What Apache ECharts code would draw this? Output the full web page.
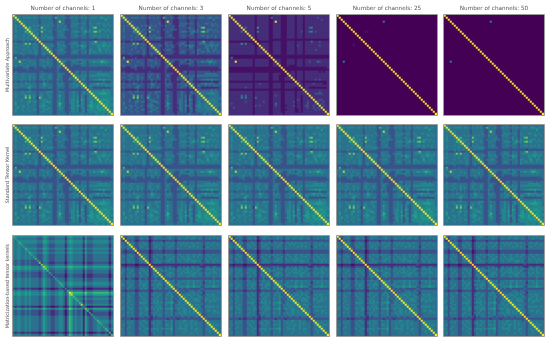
<!DOCTYPE html>
<html><head><meta charset="utf-8">
<style>html,body{margin:0;padding:0;background:#fff}#c{width:550px;height:341px}</style>
<script src="https://cdn.jsdelivr.net/npm/echarts@6/dist/echarts.min.js"></script></head>
<body><div id="c"></div><script>
const channels=[1,3,5,25,50];
const methods=['Multivariate Approach','Standard Tensor Kernel','Matricization-based tensor kernels'];
// Lower triangles of the symmetric matrices, one digit per cell (0 = dark, 9 = brightest), estimated by eye.
const standard=["9","49","349","3439","33339","343439","3433349","34333349","343333649","3333333449",
"34333433439","343333343349","3333343334 339","2322232322 2329","3433337373 43329","3333343433 343239","3433333433 4332349","3333343333 34323349","3433333343 343233349","3333433333 3432343349",
"2222232222 2322232222 9","2622222322 2222222322 29","3433343333 3323433333 229","3338333343 3323343433 2249","3333433333 4323333433 22339","3433333433 3323343333 223439","2322233322 2322233232 2233229","2222222322 2222222222 22322229","2322222222 2222322222 223222229","3433343333 3323343333 2233332229",
"3333433343 3323433343 22343222239","3433343343 4323433343 2233322233 49","3333433343 3323343333 2243322243 349","2322323232 3222232322 2232322222 3329","3433334433 3323354333 2243432233 43429","3333433344 3323344333 2234332233 344349","3433333453 3323343343 2233332233 4332449","2322222232 2222222222 2232222222 22222229","3333433443 3323333444 2234332233 433234339","3433343333 3323433433 2233332233 4332343349",
"3433336363 4324433343 2235332233 4342432344 9","3433337373 4317433343 2234332233 4342432344 49","3333433343 3323444333 2234332234 4342542344 449","3433433453 4423344543 2244332234 4352432345 3449","3533333433 3323443343 2236432234 4342442345 44459","3433443433 4324454333 2245332224 4353432455 445449","3353343343 3323443443 2234432234 4342442345 4454549","3433433433 4423344433 2234332224 4342342444 44454549","3433343343 3323443343 2233332233 4342342344 444444449","3333333333 3323333333 2233333233 3333433333 3443443449"];
const multi3=["9","39","239","2329","22229","232329","2322239","23222239","232222539","2222222339",
"23222322329","232222232239","2222232223 229","1211121211 1219","2322227272 32219","2222232322 232129","2322222322 3221239","2222232222 23212239","2322222232 232122239","2222322222 2321232239",
"1111121111 1211121111 9","1611111211 1111111211 19","2322232222 2212322222 119","2229222232 2212232322 1139","2222322222 3212222322 11229","2322222322 2212232222 112329","1211122211 1211122121 1122119","1111111211 1111111111 11211119","1211111111 1111211111 112111119","2322232222 2212232222 1122221119",
"2222322232 2212322232 11232111129","2322232232 3212322232 1122211122 39","2222322232 2212232222 1132211132 239","1211212121 2111121211 1121211111 2219","2322223322 2212243222 1132321122 32329","2222322233 2212233222 1123221122 233239","2322222342 2212232232 1122221122 3221339","1211111121 1111111111 1121111111 11111119","2222322332 2212222333 1123221122 322123229","2322232222 2212322322 1122221122 3221232239",
"2322226262 3213322232 1124221122 3231321233 9","2322227272 3216322232 1123221122 3231321233 39","2222322232 2212333222 1123221123 3231431233 339","2322322342 3312233432 1133221123 3241321234 2339","2422222322 2212332232 1125321123 3231331234 33349","2322332322 3213343222 1134221113 3242321344 334339","2242232232 2212332332 1123321123 3231331234 3343439","2322322322 3312233322 1123221113 3231231333 33343439","2322232232 2212332232 1122221122 3231231233 333333339","2222222222 2212222222 1122222122 2222322222 2332332339"];
const multi5=["9","19","119","1119","11119","111119","1111119","11111119","111111319","1111111119",
"11111111119","111111111119","1111111111 119","0000000000 0009","1111115141 11009","1111111111 111009","1111111111 1110119","1111111111 11101119","1111111111 111011119","1111111111 1110111119",
"0000000000 0000000000 9","0300000000 0000000000 09","1111111111 1101111111 009","1119111111 1101111111 0019","1111111111 1101111111 00119","1111111111 1101111111 001119","0000000000 0000000000 0000009","0000000000 0000000000 00000009","0000000000 0000000000 000000009","1111111111 1101111111 0011110009",
"1111111111 1101111111 00111000019","1111111111 1101111111 0011100011 19","1111111111 1101111111 0011100011 119","0000000000 0000000000 0000000000 0009","1111111111 1101121111 0011110011 11119","1111111111 1101111111 0011110011 111119","1111111121 1101111111 0011110011 1110119","0000000000 0000000000 0000000000 00000009","1111111111 1101111111 0011110011 111011119","1111111111 1101111111 0011110011 1110111119",
"1111113131 1101111111 0012110011 1110110111 9","1111114141 1103111111 0011110011 1110110111 19","1111111111 1101111111 0011110011 1110210111 119","1111111121 1101111211 0011110011 1120110112 1119","1211111111 1101111111 0013110011 1110110112 11129","1111111111 1102121111 0012110001 1120110122 112119","1121111111 1101111111 0011110011 1110110112 1121219","1111111111 1101111111 0011110001 1110010111 11121219","1111111111 1101111111 0011110011 1110010111 111111119","1111111111 1101111111 0011111011 1111111111 1111111119"];
const multi25Peaks=[[23,3,4],[8,14,0],[15,8,0]];
const multi50Peaks=[[23,3,4]];
const matric1=["6","45","435","4346","43445","434435","4344336","43443345","434433436","4344334345",
"4344334343 5","4344334343 36","3233223232 225","3233223232 2227","3233223232 22217","5455445454 444348","5455445454 4443467","4344334343 33323546","3233223232 222124325","3233223232 2221243224",
"3233223232 2221243221 4","4344334343 3332354332 25","4344334343 3332354332 235","4344334343 3332354332 2336","4344334343 3332354332 23346","4344334343 3332354332 233445","2122112121 1110132110 0112213","4344334343 3332354332 23344316","5455445454 4443465443 344554249","5455445454 4443465443 3445542478",
"4344334343 3332354332 2334431365 6","4344334343 3332354332 2334431365 46","4344334343 3332354332 2334431365 346","4344334343 3332354332 2334431365 3436","4344334343 3332354332 2334431365 34348","2122112121 1110132110 0112210143 121123","5455445454 4443465443 3445542476 4544527","3233223232 2221243221 1223320254 23223046","3233223232 2221243221 1223320254 232230415","3233223232 2221243221 1223320254 2322304115",
"4344334343 3332354332 2334431365 3433415322 5","4344334343 3332354332 2334431365 3433415322 35","4344334343 3332354332 2334431365 3433415322 336","4344334343 3332354332 2334431365 3433415322 3346","4344334343 3332354332 2334431365 3433415322 33445","4344334343 3332354332 2334431365 3433415322 334435","4344334343 3332354332 2334431365 3433415322 3344336","4344334343 3332354332 2334431365 3433415322 33443346","2122112121 1110132110 0112210143 1211203100 112211216","4344334343 3332354332 2334431365 3433415322 3344334316"];
const matricN=["9","39","219","3329","33239","433349","3324339","22122239","221222219","3323433229",
"3423343223 9","3324333224 39","3323433223 439","3423334223 3349","1101111001 11119","2212222112 222219","3324333223 4333129","3423343223 34341249","4323433224 334312339","3323334223 3334124339",
"3324333223 4333123433 9","2312322113 2232122322 39","3323333224 3333133433 329","3324333223 4343123334 3249","4423343224 3443134344 42349","3323433223 3433123343 323349","3324333223 4343124334 3243349","2212222112 2222112222 22223229","3323334223 3433123433 323343329","3424333224 3343134334 3234342329",
"3323433223 4333123343 3233343233 9","3324333223 3433133433 3243342324 39","3423433223 3343124343 3233342233 439","4324333224 4443134443 4244453234 3349","3323343223 3433123343 3243342334 34349","3424333223 3343133434 3233342333 433349","4423443224 4344134344 4244452344 3443339","3323333223 3343123343 3233342233 34434349","3324343223 4333133433 3243342334 344343439","3423333224 3343124334 3233342333 4343343349",
"3323333223 3323213233 3233323232 3323323332 9","2222212112 2222112222 2221222212 2222222222 29","3323333223 3433123343 3243342333 3443343332 329","3324343224 3343134334 3233342334 3433343433 3239","3423333223 4333124343 3244342333 4344343433 32349","3323433223 3433123333 3233342334 3343343333 323349","4324333224 3344134443 4344452334 4443343443 3234349","3323333223 3433133343 3233342333 3343333433 32334349","3423433223 3343124333 3243342333 3433343343 323343339","3323333223 3333123333 3233332333 3333333333 3233333339"];
const palette=['#440154','#471164','#472d7b','#3b528b','#2c728e','#24868e','#1fa088','#35b779','#6ece58','#b5de2b','#fde725'];
const idx=[...Array(50).keys()];
function fromRows(rows){const L=rows.map(r=>r.replace(/\s/g,''));const d=[];
 for(let i=0;i<50;i++)for(let j=0;j<50;j++){const a=Math.max(i,j),b=Math.min(i,j);d.push([j,i,+(L[a][b]??3)]);}return d;}
function fromPeaks(p){const d=[];
 for(let i=0;i<50;i++)for(let j=0;j<50;j++){let v=i===j?9:-1;for(const q of p)if((q[0]===i&&q[1]===j)||(q[0]===j&&q[1]===i))v=q[2];d.push([j,i,v]);}return d;}
const panels=[
 [fromRows(standard),fromRows(multi3),fromRows(multi5),fromPeaks(multi25Peaks),fromPeaks(multi50Peaks)],
 channels.map(()=>fromRows(standard)),
 [fromRows(matric1),fromRows(matricN),fromRows(matricN),fromRows(matricN),fromRows(matricN)]];
const grid=[],xAxis=[],yAxis=[],series=[],graphic=[];
const lefts=[13,121,229,337,444],tops=[15,125,236],size=100;
methods.forEach((m,r)=>channels.forEach((c,k)=>{const n=grid.length;
 grid.push({left:lefts[k],top:tops[r],width:size,height:size});
 xAxis.push({type:'category',gridIndex:n,data:idx,position:'top',axisLine:{show:false},axisTick:{show:false},axisLabel:{show:false},splitLine:{show:false},
  name:r===0?'Number of channels: '+c:'',nameLocation:'middle',nameGap:3,nameTextStyle:{fontFamily:'DejaVu Sans',fontSize:5.7,color:'#555'}});
 yAxis.push({type:'category',gridIndex:n,data:idx,inverse:true,axisLine:{show:false},axisTick:{show:false},axisLabel:{show:false},splitLine:{show:false},
  name:k===0?m:'',nameLocation:'middle',nameRotate:90,nameGap:3,nameTextStyle:{fontFamily:'DejaVu Sans',fontSize:4.9,color:'#555'}});
 series.push({type:'heatmap',xAxisIndex:n,yAxisIndex:n,data:panels[r][k],progressive:0,animation:false,emphasis:{disabled:true}});
 graphic.push({type:'rect',z:100,silent:true,shape:{x:lefts[k]-0.5,y:tops[r]-0.5,width:size+1,height:size+1},style:{fill:'none',stroke:'#9a9a9a',lineWidth:1}});
}));
const chart=echarts.init(document.getElementById('c'),null,{renderer:'canvas'});
chart.setOption({animation:false,backgroundColor:'#fff',grid,xAxis,yAxis,series,graphic,
 visualMap:{show:false,type:'continuous',min:-1,max:9,seriesIndex:series.map((_,i)=>i),inRange:{color:palette}}});
</script></body></html>
